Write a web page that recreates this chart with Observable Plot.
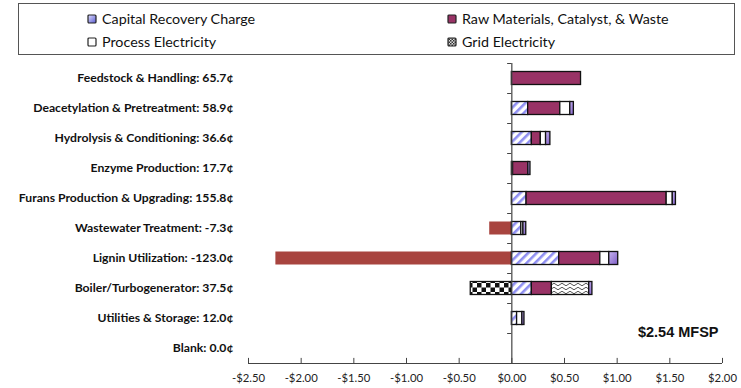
<!DOCTYPE html>
<html>
<head>
<meta charset="utf-8">
<script src="https://cdn.jsdelivr.net/npm/d3@7"></script>
<script src="https://cdn.jsdelivr.net/npm/@observablehq/plot@0.6"></script>
<style>
  html, body { margin: 0; padding: 0; background: #fff; width: 741px; height: 388px; overflow: hidden; }
  #legend { position: absolute; left: 18px; top: 3px; width: 715px; height: 50px; border: 1px solid #555; font-family: Lato, "Open Sans", sans-serif; font-size: 14.3px; color: #111; }
  .item { position: absolute; display: flex; align-items: center; white-space: nowrap; }
  .item svg { margin-right: 5px; }
  #chart { position: absolute; left: 0; top: 58px; }
</style>
</head>
<body>
<div id="legend"></div>
<div id="chart"></div>
<script>
// Cost contribution by process area, $/gal of fuel
const categories = [
  "Feedstock & Handling", "Deacetylation & Pretreatment", "Hydrolysis & Conditioning",
  "Enzyme Production", "Furans Production & Upgrading", "Wastewater Treatment",
  "Lignin Utilization", "Boiler/Turbogenerator", "Utilities & Storage", "Blank"
];
// net contribution per area, cents/gal
const netCents = [65.7, 58.9, 36.6, 17.7, 155.8, -7.3, -123.0, 37.5, 12.0, 0.0];

// stacked components, $/gal
const capitalRecovery = [0, 0.155, 0.19, 0.012, 0.14, 0.09, 0.45, 0.19, 0.05, 0];
const rawMaterials    = [0.657, 0.305, 0.085, 0.145, 1.33, 0, 0.39, 0.19, 0, 0];
const processElec     = [0, 0.095, 0.05, 0, 0.058, 0.02, 0.085, 0, 0.05, 0];
const steamCosts      = [0, 0, 0, 0, 0, 0, 0, 0.355, 0, 0];
const fixedCosts      = [0, 0.034, 0.041, 0.02, 0.03, 0.027, 0.085, 0.03, 0.02, 0];
const coproductCredit = [0, 0, 0, 0, 0, -0.21, -2.24, 0, 0, 0];
const gridElec        = [0, 0, 0, 0, 0, 0, 0, -0.39, 0, 0];

const xTicks = [-2.5, -2, -1.5, -1, -0.5, 0, 0.5, 1, 1.5, 2];

const series = [
  {key: "credit",  values: coproductCredit, fill: "#a8443f", stroke: "none"},
  {key: "grid",    values: gridElec,        fill: "url(#checker)", stroke: "#111"},
  {key: "capital", values: capitalRecovery, fill: "url(#hatch)", stroke: "#111"},
  {key: "raw",     values: rawMaterials,    fill: "#993366", stroke: "#111"},
  {key: "process", values: processElec,     fill: "#ffffff", stroke: "#111"},
  {key: "steam",   values: steamCosts,      fill: "url(#wave)", stroke: "#111"},
  {key: "fixed",   values: fixedCosts,      fill: "url(#lavender)", stroke: "#111"}
];

// stack positives rightward and negatives leftward from zero
const segments = [];
categories.forEach((c, i) => {
  let pos = 0, neg = 0;
  for (const s of series) {
    const v = s.values[i];
    if (v > 0) { segments.push({i, x1: pos, x2: pos + v, fill: s.fill, stroke: s.stroke}); pos += v; }
    else if (v < 0) { segments.push({i, x1: neg + v, x2: neg, fill: s.fill, stroke: s.stroke}); neg += v; }
  }
});

const mfsp = d3.sum(netCents) / 100;
const rowLabel = v => {
  const i = Math.floor(v);
  return `${categories[i]}: ${netCents[i].toFixed(1)}¢`;
};
const dollar = v => (v < 0 ? "-$" : "$") + Math.abs(v).toFixed(2);

const chart = Plot.plot({
  width: 741,
  height: 330,
  marginLeft: 248,
  marginRight: 19,
  marginTop: 5,
  marginBottom: 25,
  style: {fontFamily: "Lato, 'Open Sans', sans-serif", fontSize: "11px", color: "#111", background: "#fff"},
  x: {domain: [-2.5, 2]},
  y: {domain: [0, categories.length], reverse: true},
  marks: [
    Plot.rectX(segments, {
      x1: "x1", x2: "x2", y1: d => d.i, y2: d => d.i + 1,
      insetTop: 8.5, insetBottom: 8.5,
      fill: d => d.fill, stroke: d => d.stroke, strokeWidth: 1.3
    }),
    Plot.ruleY([categories.length], {x1: -2.5, x2: 2, stroke: "#444", strokeWidth: 1.2}),
    Plot.ruleX(xTicks, {x: d => d, y1: categories.length, y2: categories.length - 0.17, stroke: "#444"}),
    Plot.axisX({ticks: xTicks, tickSize: 0, tickPadding: 10, tickFormat: dollar, fontSize: 11.3, fill: "#222"}),
    Plot.axisY({
      ticks: categories.map((c, i) => i + 0.5), tickSize: 0, tickPadding: 15,
      tickFormat: rowLabel, fontWeight: "bold", fontSize: 12.2
    }),
    Plot.ruleX([0], {y1: 0, y2: categories.length, stroke: "#444", strokeWidth: 1.2}),
    Plot.ruleY(d3.range(categories.length + 1), {x1: -0.04, x2: 0, stroke: "#444"}),
    Plot.text([`$${mfsp.toFixed(2)} MFSP`], {
      frameAnchor: "bottom-right", textAnchor: "end", dx: -4, dy: -27,
      fontWeight: "bold", fontSize: 14.5, fontFamily: "'Liberation Sans', Arial, sans-serif", fill: "#111"
    })
  ]
});

// fill patterns referenced by the bars
const defs = d3.select(chart).insert("defs", ":first-child");
const hatch = defs.append("pattern").attr("id", "hatch").attr("patternUnits", "userSpaceOnUse")
  .attr("width", 6).attr("height", 6).attr("patternTransform", "rotate(45)");
hatch.append("rect").attr("width", 6).attr("height", 6).attr("fill", "#fff");
hatch.append("rect").attr("width", 2.6).attr("height", 6).attr("fill", "#8f8ff2");

const checker = defs.append("pattern").attr("id", "checker").attr("patternUnits", "userSpaceOnUse")
  .attr("width", 9).attr("height", 9);
checker.append("rect").attr("width", 9).attr("height", 9).attr("fill", "#fff");
checker.append("rect").attr("width", 4.5).attr("height", 4.5).attr("fill", "#111");
checker.append("rect").attr("x", 4.5).attr("y", 4.5).attr("width", 4.5).attr("height", 4.5).attr("fill", "#111");

const wave = defs.append("pattern").attr("id", "wave").attr("patternUnits", "userSpaceOnUse")
  .attr("width", 8).attr("height", 4);
wave.append("rect").attr("width", 8).attr("height", 4).attr("fill", "#fff");
wave.append("path").attr("d", "M0 2.5 Q2 0 4 2.5 T8 2.5").attr("fill", "none").attr("stroke", "#555").attr("stroke-width", 1);

const lav = defs.append("linearGradient").attr("id", "lavender").attr("x1", 0).attr("y1", 0).attr("x2", 1).attr("y2", 1);
lav.append("stop").attr("offset", "0%").attr("stop-color", "#c9b6f2");
lav.append("stop").attr("offset", "100%").attr("stop-color", "#7d5cc4");

document.getElementById("chart").appendChild(chart);

// legend entries
const legendItems = [
  {label: "Capital Recovery Charge", left: 68, top: 6, kind: "capital"},
  {label: "Raw Materials, Catalyst, & Waste", left: 428, top: 6, kind: "raw"},
  {label: "Process Electricity", left: 68, top: 29, kind: "process"},
  {label: "Grid Electricity", left: 428, top: 29, kind: "grid"}
];
const legend = d3.select("#legend");
for (const it of legendItems) {
  const el = legend.append("div").attr("class", "item").style("left", it.left + "px").style("top", it.top + "px");
  const sw = el.append("svg").attr("width", 10).attr("height", 10);
  const sdefs = sw.append("defs");
  let fill = "#fff";
  if (it.kind === "capital") {
    const g = sdefs.append("linearGradient").attr("id", "lg-cap").attr("x1", 0).attr("y1", 0).attr("x2", 1).attr("y2", 1);
    g.append("stop").attr("offset", "0%").attr("stop-color", "#e0e0ff");
    g.append("stop").attr("offset", "100%").attr("stop-color", "#5a5ad0");
    fill = "url(#lg-cap)";
  } else if (it.kind === "raw") {
    fill = "#993366";
  } else if (it.kind === "grid") {
    const p = sdefs.append("pattern").attr("id", "lg-grid").attr("patternUnits", "userSpaceOnUse").attr("width", 3).attr("height", 3);
    p.append("rect").attr("width", 3).attr("height", 3).attr("fill", "#ddd");
    p.append("rect").attr("width", 1.5).attr("height", 1.5).attr("fill", "#333");
    p.append("rect").attr("x", 1.5).attr("y", 1.5).attr("width", 1.5).attr("height", 1.5).attr("fill", "#333");
    fill = "url(#lg-grid)";
  }
  sw.append("rect").attr("x", 1).attr("y", 1).attr("width", 8).attr("height", 8).attr("rx", 1)
    .attr("fill", fill).attr("stroke", "#222").attr("stroke-width", 1.2);
  el.append("span").text(it.label);
}
</script>
</body>
</html>
